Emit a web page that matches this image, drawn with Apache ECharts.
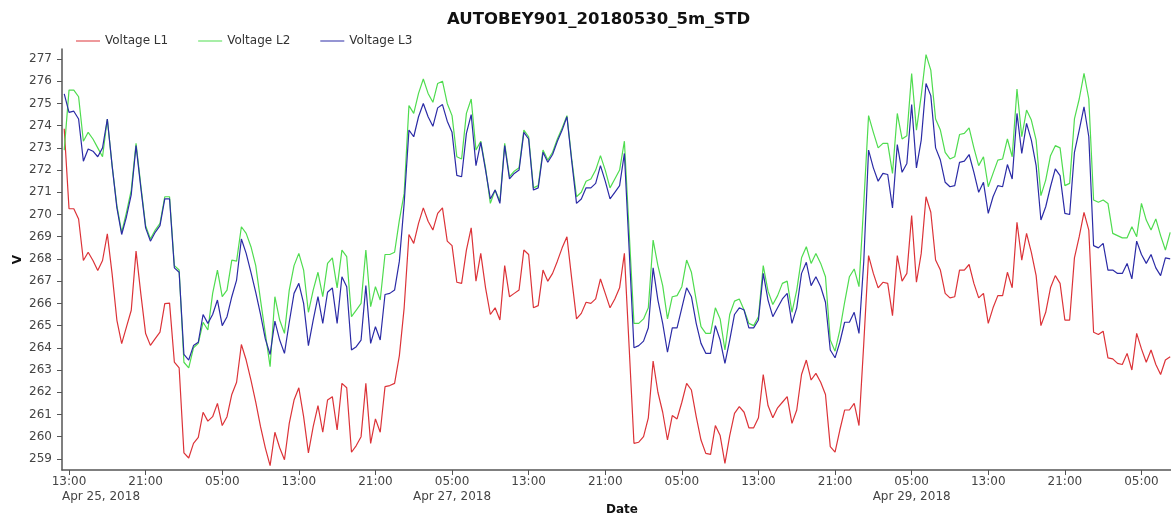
<!DOCTYPE html>
<html>
<head>
<meta charset="utf-8">
<title>AUTOBEY901_20180530_5m_STD</title>
<script src="https://cdn.jsdelivr.net/npm/echarts@6/dist/echarts.min.js"></script>
<style>
  html, body { margin: 0; padding: 0; background: #ffffff; }
  #chart { width: 1171px; height: 516px; }
</style>
</head>
<body>
<div id="chart"></div>
<script>
// Three-phase voltage readings, one sample every 30 minutes from Apr 25 2018 12:30 (UTC).
const CHART_TITLE = 'AUTOBEY901_20180530_5m_STD';
const SERIES_NAMES = ['Voltage L1', 'Voltage L2', 'Voltage L3'];
const SERIES_COLORS = ['#dc3338', '#4fdc4f', '#2b2ba6'];
const SAMPLE_START = '2018-04-25T12:30:00Z';
const SAMPLE_STEP_MINUTES = 30;

const voltageL1 = [
  273.86, 270.26, 270.26, 269.8, 267.93, 268.3, 267.93, 267.48, 267.93, 269.13,
  267.33, 265.24, 264.19, 264.94, 265.69, 268.35, 266.43, 264.64, 264.11, 264.41,
  264.71, 265.99, 266.01, 263.36, 263.1, 259.27, 259.04, 259.7, 259.97, 261.1,
  260.7, 260.9, 261.5, 260.5, 260.9, 261.9, 262.45, 264.15, 263.45, 262.55,
  261.55, 260.45, 259.5, 258.7, 260.2, 259.5, 258.96, 260.6, 261.65, 262.2,
  260.9, 259.27, 260.45, 261.4, 260.2, 261.65, 261.8, 260.3, 262.4, 262.2,
  259.3, 259.6, 260.0, 262.4, 259.7, 260.8, 260.2, 262.25, 262.3, 262.4,
  263.65, 265.8, 269.1, 268.7, 269.6, 270.3, 269.7, 269.3, 270.05, 270.3,
  268.8, 268.6, 266.95, 266.9, 268.4, 269.4, 267.0, 268.25, 266.7, 265.5,
  265.8, 265.25, 267.7, 266.3, 266.45, 266.6, 268.4, 268.2, 265.8, 265.9,
  267.5, 267.0, 267.35, 267.9, 268.5, 269.0, 267.1, 265.3, 265.55, 266.05,
  266.0, 266.2, 267.1, 266.45, 265.8, 266.2, 266.7, 268.25, 264.0, 259.7,
  259.75, 260.0, 260.85, 263.4, 262.0, 261.1, 259.85, 260.95, 260.8, 261.55,
  262.4, 262.1, 260.9, 259.85, 259.25, 259.2, 260.5, 260.05, 258.8, 260.05,
  261.05, 261.35, 261.1, 260.4, 260.4, 260.85, 262.8, 261.4, 260.85, 261.3,
  261.55, 261.8, 260.6, 261.2, 262.8, 263.45, 262.55, 262.85, 262.45, 261.9,
  259.55, 259.3, 260.3, 261.2, 261.2, 261.5, 260.5, 264.2, 268.15, 267.35,
  266.7, 266.95, 266.9, 265.45, 268.15, 267.0, 267.35, 269.95, 266.95, 268.25,
  270.8, 270.1, 267.95, 267.5, 266.45, 266.25, 266.3, 267.5, 267.5, 267.75,
  266.9, 266.25, 266.45, 265.1, 265.8, 266.35, 266.35, 267.4, 266.7, 269.65,
  267.95, 269.15, 268.3, 267.25, 265.0, 265.6, 266.7, 267.25, 266.9, 265.25,
  265.25, 268.05, 269.0, 270.1, 269.3, 264.7, 264.6, 264.75, 263.55, 263.5,
  263.3, 263.25, 263.75, 263.0, 264.65, 263.95, 263.35, 263.9, 263.25, 262.8,
  263.45, 263.6
];

const voltageL2 = [
  272.9, 275.6, 275.6, 275.3, 273.3, 273.7, 273.4, 273.0, 272.6, 274.3,
  272.2, 270.4, 269.2, 270.1, 271.1, 273.2, 271.3, 269.5, 268.9, 269.3,
  269.6, 270.8, 270.8, 267.7, 267.5, 263.35, 263.1, 264.0, 264.2, 265.15,
  264.8, 266.45, 267.5, 266.3, 266.6, 267.95, 267.9, 269.45, 269.15, 268.55,
  267.7, 266.15, 264.65, 263.15, 266.3, 265.25, 264.65, 266.6, 267.7, 268.25,
  267.5, 265.6, 266.6, 267.4, 266.3, 267.8, 268.05, 266.7, 268.4, 268.1,
  265.4, 265.7, 266.0, 268.4, 265.85, 266.75, 266.15, 268.2, 268.2, 268.3,
  269.75, 270.95, 274.9, 274.55, 275.45, 276.1, 275.45, 275.05, 275.9, 276.0,
  275.0, 274.45, 272.6, 272.5, 274.55, 275.2, 272.9, 273.3, 272.1, 270.5,
  271.1, 270.6, 273.2, 271.7, 271.95, 272.1, 273.8, 273.5, 271.2, 271.3,
  272.9, 272.45, 272.8, 273.4, 273.9, 274.45, 272.5, 270.8, 271.0, 271.5,
  271.6, 272.0, 272.65, 272.0, 271.2, 271.6, 272.0, 273.3, 269.2, 265.1,
  265.1, 265.3, 265.8, 268.85, 267.7, 266.8, 265.3, 266.3, 266.35, 266.75,
  267.95, 267.4, 266.15, 264.95, 264.65, 264.65, 265.8, 265.3, 263.9, 265.5,
  266.1, 266.2, 265.7, 265.1, 265.0, 265.4, 267.7, 266.55, 265.95, 266.35,
  266.9, 267.0, 265.6, 266.6, 268.05, 268.55, 267.8, 268.25, 267.8, 267.2,
  264.35, 263.85, 264.8, 266.05, 267.2, 267.55, 266.75, 270.5, 274.45, 273.7,
  273.0, 273.2, 273.2, 271.85, 274.55, 273.4, 273.55, 276.35, 273.8, 275.35,
  277.2, 276.5, 274.3, 273.8, 272.8, 272.5, 272.6, 273.6, 273.65, 273.9,
  273.0, 272.2, 272.6, 271.25, 271.85, 272.45, 272.5, 273.4, 272.6, 275.65,
  273.5, 274.7, 274.25, 273.35, 270.85, 271.55, 272.65, 273.1, 273.0, 271.3,
  271.4, 274.3, 275.2, 276.35, 275.2, 270.65, 270.55, 270.65, 270.5, 269.15,
  269.05, 268.95, 268.95, 269.45, 269.0, 270.5, 269.75, 269.3, 269.8, 269.05,
  268.4, 269.2
];

const voltageL3 = [
  275.43, 274.6, 274.65, 274.3, 272.4, 272.95, 272.85, 272.6, 273.0, 274.3,
  272.2, 270.3, 269.1, 269.9, 270.9, 273.1, 271.2, 269.4, 268.8, 269.2,
  269.5, 270.7, 270.7, 267.6, 267.4, 263.7, 263.45, 264.1, 264.25, 265.5,
  265.1, 265.5, 266.15, 265.0, 265.4, 266.3, 267.05, 268.9, 268.25, 267.4,
  266.5, 265.5, 264.4, 263.7, 265.2, 264.35, 263.75, 265.15, 266.45, 266.9,
  266.0, 264.1, 265.25, 266.3, 265.1, 266.5, 266.7, 265.1, 267.2, 266.75,
  263.9, 264.05, 264.35, 266.8, 264.2, 264.95, 264.35, 266.4, 266.45, 266.6,
  267.9, 270.5, 273.8, 273.5, 274.4, 275.0, 274.4, 273.97, 274.8, 274.95,
  274.2, 273.7, 271.76, 271.7, 273.65, 274.5, 272.2, 273.25, 272.0, 270.7,
  271.1, 270.5, 273.1, 271.6, 271.85, 272.0, 273.7, 273.4, 271.1, 271.2,
  272.8, 272.35, 272.7, 273.3, 273.8, 274.4, 272.4, 270.5, 270.7, 271.2,
  271.2, 271.4, 272.2, 271.5, 270.7, 271.0, 271.3, 272.75, 268.4, 264.0,
  264.1, 264.3, 264.9, 267.6, 266.15, 265.1, 263.8, 264.9, 264.9, 265.8,
  266.7, 266.3, 265.1, 264.2, 263.75, 263.75, 265.0, 264.35, 263.3, 264.35,
  265.5, 265.8, 265.7, 264.9, 264.9, 265.25, 267.35, 266.15, 265.4, 265.8,
  266.2, 266.45, 265.1, 265.8, 267.35, 267.85, 266.8, 267.2, 266.75, 266.05,
  263.9, 263.55, 264.25, 265.15, 265.15, 265.6, 264.65, 267.9, 272.9, 272.1,
  271.5, 271.85, 271.8, 270.3, 273.15, 271.9, 272.3, 274.95, 272.1, 273.35,
  275.9, 275.35, 273.0, 272.45, 271.45, 271.25, 271.3, 272.35, 272.4, 272.7,
  271.9, 271.0, 271.45, 270.05, 270.8, 271.3, 271.25, 272.25, 271.6, 274.55,
  272.75, 274.1, 273.35, 272.2, 269.75, 270.35, 271.25, 272.05, 271.75, 270.05,
  270.0, 272.8, 273.8, 274.85, 273.5, 268.6, 268.5, 268.7, 267.5, 267.5,
  267.35, 267.35, 267.8, 267.1, 268.8, 268.2, 267.8, 268.2, 267.6, 267.25,
  268.05, 268.0
];

// Axis extents and tick positions (the plot runs a little past the right edge of the page).
const X_RANGE = ['2018-04-25T12:16:00Z', '2018-04-30T09:14:00Z'];
const Y_RANGE = [258.5, 277.45];
const Y_TICKS = [259, 260, 261, 262, 263, 264, 265, 266, 267, 268,
                 269, 270, 271, 272, 273, 274, 275, 276, 277];
const X_TICKS = [
  '2018-04-25T13:00:00Z', '2018-04-25T21:00:00Z', '2018-04-26T05:00:00Z',
  '2018-04-26T13:00:00Z', '2018-04-26T21:00:00Z', '2018-04-27T05:00:00Z',
  '2018-04-27T13:00:00Z', '2018-04-27T21:00:00Z', '2018-04-28T05:00:00Z',
  '2018-04-28T13:00:00Z', '2018-04-28T21:00:00Z', '2018-04-29T05:00:00Z',
  '2018-04-29T13:00:00Z', '2018-04-29T21:00:00Z', '2018-04-30T05:00:00Z'
];
const DATE_TICKS = ['2018-04-27T05:00:00Z', '2018-04-29T05:00:00Z'];
const MONTHS = ['Jan', 'Feb', 'Mar', 'Apr', 'May', 'Jun',
                'Jul', 'Aug', 'Sep', 'Oct', 'Nov', 'Dec'];

const ms = s => Date.parse(s);
const pad2 = n => (n < 10 ? '0' : '') + n;
const fmtTime = v => { const d = new Date(v); return pad2(d.getUTCHours()) + ':' + pad2(d.getUTCMinutes()); };
const fmtDate = v => { const d = new Date(v); return MONTHS[d.getUTCMonth()] + ' ' + d.getUTCDate() + ', ' + d.getUTCFullYear(); };

const startMs = ms(SAMPLE_START);
const stepMs = SAMPLE_STEP_MINUTES * 60 * 1000;
const toPoints = arr => arr.map((v, i) => [startMs + i * stepMs, v]);

const FONT = 'DejaVu Sans';
const AXIS_COLOR = '#555555';
const LABEL_COLOR = '#444444';
const xMin = ms(X_RANGE[0]);
const xMax = ms(X_RANGE[1]);

// Timestamps (ms, UTC) on a linear axis; ticks and labels placed at fixed clock times.
const baseTimeAxis = {
  type: 'value', gridIndex: 0, min: xMin, max: xMax, position: 'bottom',
  splitLine: { show: false }, splitArea: { show: false }
};

const chart = echarts.init(document.getElementById('chart'), null, { renderer: 'canvas' });
chart.setOption({
  animation: false,
  backgroundColor: '#ffffff',
  textStyle: { fontFamily: FONT },
  color: SERIES_COLORS,
  title: {
    text: CHART_TITLE,
    left: 442, top: 6,
    textStyle: { fontFamily: FONT, fontSize: 16.5, fontWeight: 'bold', color: '#111111' }
  },
  legend: {
    data: SERIES_NAMES.map((name, i) => ({ name, icon: 'rect', itemStyle: { color: SERIES_COLORS[i] } })),
    left: 71, top: 30,
    itemWidth: 24, itemHeight: 1, itemGap: 30,
    textStyle: { fontFamily: FONT, fontSize: 12, color: '#333333' }
  },
  grid: { left: 62, right: -11, top: 49, bottom: 46, outerBoundsMode: 'none', containLabel: false },
  xAxis: [
    Object.assign({}, baseTimeAxis, {
      name: 'Date', nameLocation: 'middle', nameGap: 34, nameMoveOverlap: false,
      nameTextStyle: { fontFamily: FONT, fontSize: 12, fontWeight: 'bold', color: '#111111' },
      axisLine: { show: true, onZero: false, lineStyle: { color: AXIS_COLOR, width: 1.5 } },
      axisTick: { show: true, length: 5, customValues: X_TICKS.map(ms), lineStyle: { color: AXIS_COLOR, width: 1 } },
      axisLabel: { customValues: X_TICKS.map(ms), formatter: fmtTime, margin: 6,
                   fontFamily: FONT, fontSize: 12, color: LABEL_COLOR }
    }),
    Object.assign({}, baseTimeAxis, {
      axisLine: { show: false, onZero: false }, axisTick: { show: false },
      axisLabel: { customValues: DATE_TICKS.map(ms), formatter: fmtDate, margin: 21,
                   fontFamily: FONT, fontSize: 12, color: LABEL_COLOR }
    }),
    Object.assign({}, baseTimeAxis, {
      axisLine: { show: false, onZero: false }, axisTick: { show: false },
      axisLabel: { customValues: [xMin], formatter: fmtDate, margin: 21, align: 'left',
                   showMinLabel: true, fontFamily: FONT, fontSize: 12, color: LABEL_COLOR }
    })
  ],
  yAxis: {
    type: 'value', min: Y_RANGE[0], max: Y_RANGE[1],
    name: 'V', nameLocation: 'middle', nameGap: 38, nameRotate: 90, nameMoveOverlap: false,
    nameTextStyle: { fontFamily: FONT, fontSize: 12, fontWeight: 'bold', color: '#111111' },
    axisLine: { show: true, onZero: false, lineStyle: { color: AXIS_COLOR, width: 1.5 } },
    axisTick: { show: true, length: 5, customValues: Y_TICKS, lineStyle: { color: AXIS_COLOR, width: 1 } },
    axisLabel: { customValues: Y_TICKS, margin: 10, fontFamily: FONT, fontSize: 12, color: LABEL_COLOR },
    splitLine: { show: false }
  },
  series: [voltageL1, voltageL2, voltageL3].map((arr, i) => ({
    name: SERIES_NAMES[i],
    type: 'line',
    xAxisIndex: 0,
    symbol: 'none',
    showSymbol: false,
    clip: true,
    lineStyle: { width: 1.2, color: SERIES_COLORS[i] },
    itemStyle: { color: SERIES_COLORS[i] },
    emphasis: { disabled: true },
    data: toPoints(arr)
  }))
});
</script>
</body>
</html>
